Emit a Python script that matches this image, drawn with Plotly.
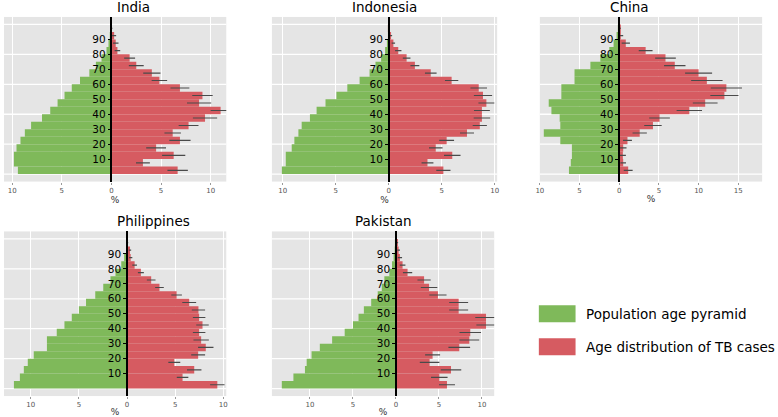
import plotly.graph_objects as go

age_groups = list(range(0, 100, 5))

india_pop = [9.43, 9.83, 9.83, 9.57, 9.17, 8.73, 8.1, 7.0, 6.17, 5.43, 4.73, 4.0, 3.17, 2.23, 1.57, 1.0, 0.5, 0.3, 0.17, 0.07]
india_tb = [6.67, 3.17, 6.27, 4.5, 6.9, 6.17, 7.77, 9.43, 11.0, 8.83, 9.17, 6.9, 4.83, 4.07, 2.5, 1.83, 0.6, 0.43, 0.27, 0.05]
india_err = [1.03, 0.7, 1.17, 1.0, 1.07, 0.83, 1.0, 1.22, 1.0, 1.22, 1.03, 0.95, 0.78, 0.87, 0.75, 0.55, 0.28, 0.28, 0.2, 0.05]

indonesia_pop = [10.09, 9.72, 9.72, 9.16, 8.91, 8.53, 8.22, 7.44, 6.81, 5.97, 4.94, 3.91, 2.75, 1.81, 1.25, 0.72, 0.34, 0.16, 0.06, 0.02]
indonesia_tb = [5.16, 3.66, 6.0, 4.44, 5.47, 7.39, 8.6, 8.8, 8.8, 9.22, 8.9, 8.5, 5.94, 3.97, 2.47, 1.69, 0.9, 0.44, 0.22, 0.06]
indonesia_err = [0.67, 0.56, 0.78, 0.64, 0.7, 0.66, 0.67, 0.78, 0.75, 0.75, 0.86, 0.78, 0.63, 0.55, 0.42, 0.36, 0.3, 0.16, 0.1, 0.04]

china_pop = [6.33, 6.1, 5.96, 5.96, 7.42, 9.5, 7.42, 7.5, 8.54, 8.88, 7.29, 7.29, 5.63, 5.63, 3.63, 2.38, 1.25, 0.71, 0.33, 0.08]
china_tb = [1.13, 0.5, 0.46, 0.5, 1.04, 2.58, 4.25, 5.08, 8.83, 10.83, 13.25, 13.5, 11.04, 10.0, 7.0, 5.83, 3.33, 0.83, 0.2, 0.12]
china_err = [0.56, 0.35, 0.38, 0.42, 0.56, 0.9, 1.1, 1.3, 1.6, 1.56, 1.77, 1.96, 1.98, 1.7, 1.35, 1.3, 0.87, 0.52, 0.3, 0.1]

philippines_pop = [11.75, 11.13, 10.72, 10.31, 9.69, 8.32, 8.32, 7.3, 6.5, 5.74, 5.0, 4.26, 3.3, 2.47, 1.72, 1.2, 0.6, 0.3, 0.1, 0.03]
philippines_tb = [9.38, 5.77, 6.98, 4.91, 7.39, 8.18, 7.7, 7.49, 7.84, 7.49, 7.42, 6.46, 5.15, 3.37, 2.51, 1.44, 0.79, 0.38, 0.31, 0.07]
philippines_err = [0.75, 0.6, 0.75, 0.62, 0.72, 0.8, 0.8, 0.65, 0.65, 0.65, 0.69, 0.72, 0.55, 0.45, 0.45, 0.31, 0.24, 0.17, 0.12, 0.05]

pakistan_pop = [13.27, 11.92, 10.58, 10.38, 9.81, 8.85, 7.42, 5.96, 5.0, 4.35, 3.73, 2.88, 2.12, 1.65, 1.35, 0.77, 0.46, 0.27, 0.15, 0.05]
pakistan_tb = [5.93, 5.04, 6.4, 3.91, 4.26, 7.36, 8.53, 8.64, 10.47, 10.47, 7.29, 7.29, 4.88, 3.85, 3.27, 1.35, 0.77, 0.46, 0.31, 0.15]
pakistan_err = [0.93, 0.96, 1.19, 1.14, 0.87, 1.26, 1.15, 1.25, 1.12, 1.25, 1.1, 1.1, 1.0, 0.96, 0.77, 0.54, 0.33, 0.25, 0.15, 0.1]

W, H = 778, 417
GREEN = "#7fb95a"
RED = "#d65b61"
FONT = "DejaVu Sans"

# name, data, x range, pixel box (x0, x1, y0, y1)
panels = [
    ("India", india_pop, india_tb, india_err, (-10.83, 11.57), (0, 224, 17, 182)),
    ("Indonesia", indonesia_pop, indonesia_tb, indonesia_err, (-11.03, 10.24), (270, 497, 17, 182)),
    ("China", china_pop, china_tb, china_err, (-10.0, 18.0), (540, 764, 17, 182)),
    ("Philippines", philippines_pop, philippines_tb, philippines_err, (-12.78, 10.31), (0, 224, 232, 397)),
    ("Pakistan", pakistan_pop, pakistan_tb, pakistan_err, (-14.42, 11.42), (270, 494, 232, 397)),
]

fig = go.Figure()
shapes = []
annotations = []
centers = [a + 2.5 for a in age_groups]

for i, (name, pop, tb, err, xr, (px0, px1, py0, py1)) in enumerate(panels, 1):
    sfx = "" if i == 1 else str(i)
    xa, ya = "x" + sfx, "y" + sfx

    fig.add_trace(go.Bar(y=centers, x=[-v for v in pop], orientation="h", width=5,
                         marker=dict(color=GREEN, line_width=0), xaxis=xa, yaxis=ya,
                         showlegend=False, hoverinfo="skip"))
    fig.add_trace(go.Bar(y=centers, x=tb, orientation="h", width=5,
                         marker=dict(color=RED, line_width=0), xaxis=xa, yaxis=ya,
                         error_x=dict(type="data", array=err, color="#4a4a4a", thickness=1.1, width=0),
                         showlegend=False, hoverinfo="skip"))

    ticks = [t for t in range(-15, 20, 5) if xr[0] <= t <= xr[1]]
    zero_px = px0 + (0 - xr[0]) / (xr[1] - xr[0]) * (px1 - px0)

    fig.update_layout(**{
        "xaxis" + sfx: dict(domain=[px0 / W, px1 / W], anchor=ya, range=list(xr),
                            tickvals=ticks, ticktext=[str(abs(t)) for t in ticks],
                            tickfont=dict(size=7, color="#555555"), ticks="outside", ticklen=2,
                            tickcolor="#999999", showgrid=True, gridcolor="white", gridwidth=1.3,
                            zeroline=False, showline=False, fixedrange=True,
                            title=dict(text="%", font=dict(size=9, color="#333333"), standoff=1)),
        "yaxis" + sfx: dict(domain=[1 - py1 / H, 1 - py0 / H], anchor="free", position=zero_px / W,
                            range=[-5, 105], tickvals=list(range(10, 100, 10)),
                            tickfont=dict(size=10.5, color="black"), ticks="outside", ticklen=3,
                            tickcolor="black", showgrid=False, zeroline=False, showline=True,
                            linecolor="black", linewidth=1.5, layer="above traces", fixedrange=True),
    })

    for g in range(0, 101, 20):
        shapes.append(dict(type="line", xref=xa + " domain", yref=ya, x0=0, x1=1, y0=g, y1=g,
                           line=dict(color="white", width=1.3), layer="below"))

    annotations.append(dict(text=name, x=(px0 + px1) / 2 / W, y=1 - (py0 - 10) / H,
                            xref="paper", yref="paper", showarrow=False, yanchor="middle",
                            font=dict(size=13.5, color="black")))

# legend drawn by hand to match the wide swatches
legend_items = [("Population age pyramid", GREEN, 306), ("Age distribution of TB cases", RED, 339)]
for label, color, top in legend_items:
    shapes.append(dict(type="rect", xref="paper", yref="paper", x0=539 / W, x1=576 / W,
                       y0=1 - (top + 17) / H, y1=1 - top / H, fillcolor=color, line_width=0))
    annotations.append(dict(text=label, x=585 / W, y=1 - (top + 8.5) / H, xref="paper", yref="paper",
                            xanchor="left", yanchor="middle", showarrow=False,
                            font=dict(size=13.5, color="black")))

fig.update_layout(width=W, height=H, margin=dict(l=0, r=0, t=0, b=0),
                  paper_bgcolor="white", plot_bgcolor="#e5e5e5", barmode="overlay",
                  font=dict(family=FONT), showlegend=False,
                  shapes=shapes, annotations=annotations)

fig.write_html("out.html", config={"displayModeBar": False},
               post_script="document.body.style.margin='0';document.body.style.overflow='hidden';")
